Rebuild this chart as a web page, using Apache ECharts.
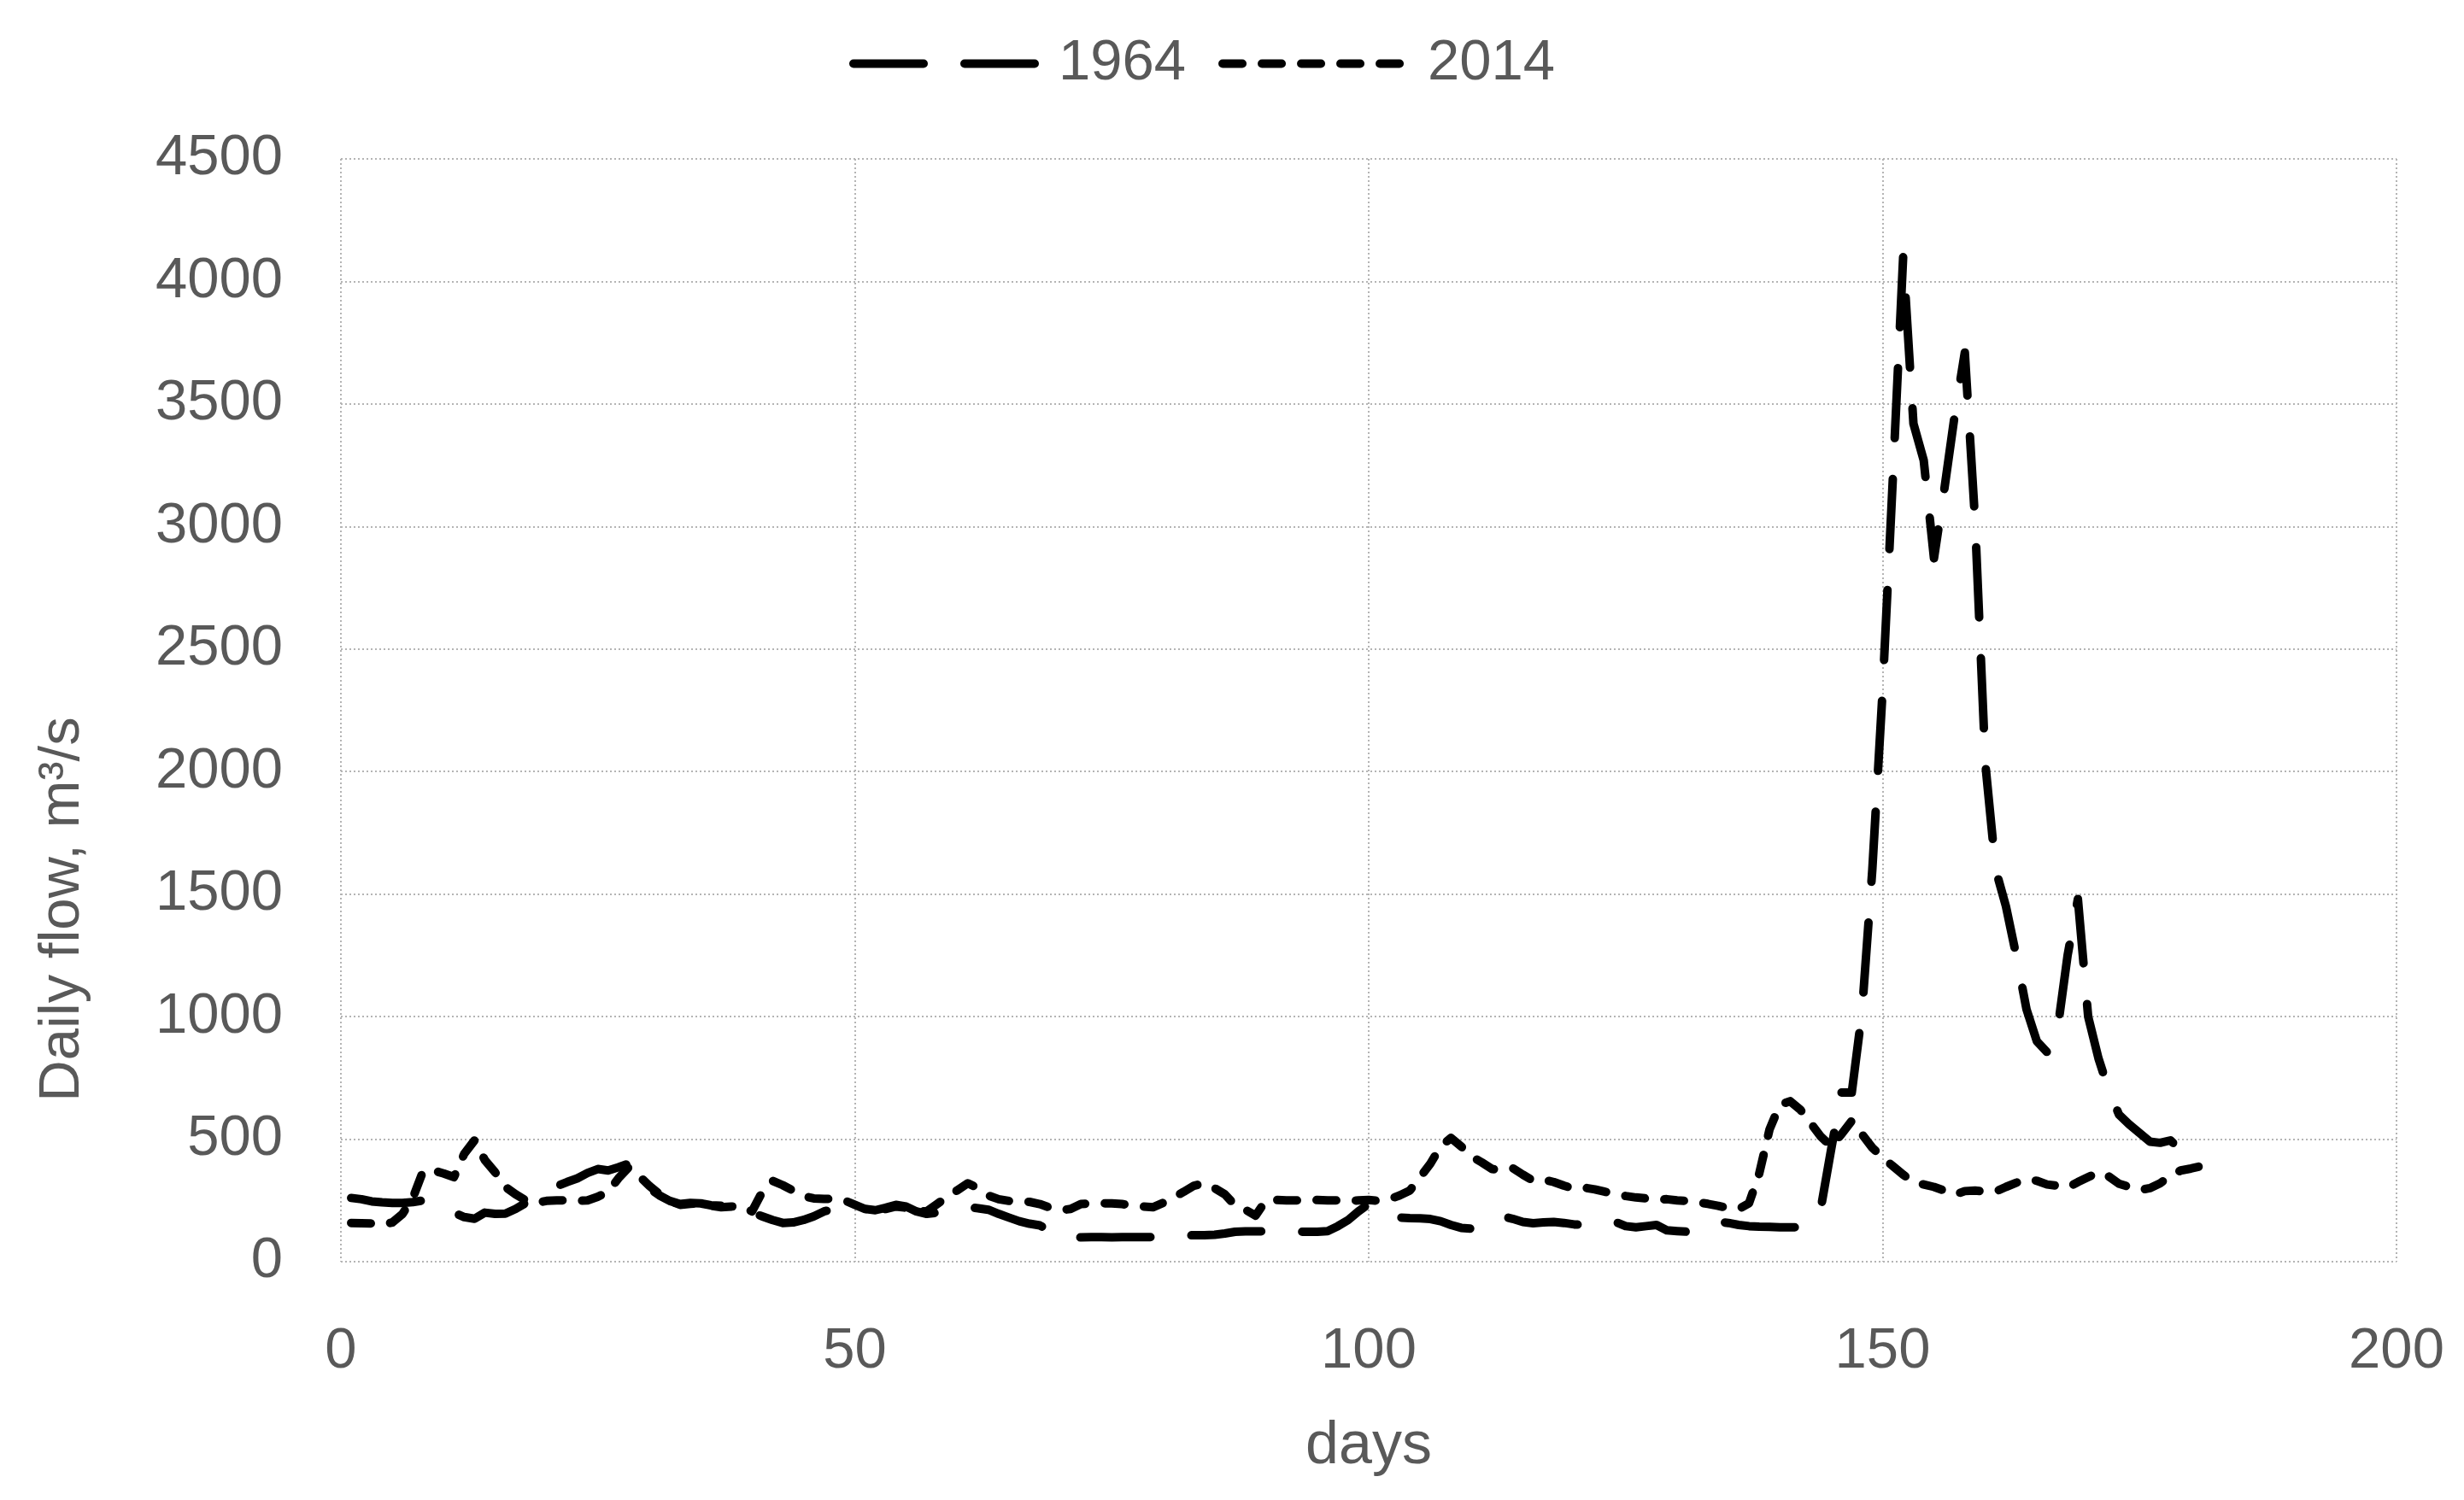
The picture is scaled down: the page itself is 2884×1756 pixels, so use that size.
<!DOCTYPE html>
<html>
<head>
<meta charset="utf-8">
<title>Daily flow 1964 / 2014</title>
<script src="https://cdn.jsdelivr.net/npm/echarts@6/dist/echarts.min.js"></script>
<style>
  html, body { margin: 0; padding: 0; background: #fff; }
  #chart { width: 2884px; height: 1756px; }
</style>
</head>
<body>
<div id="chart"></div>
<script>
// daily flow (m3/s), day 1 .. 181
const flow1964 = [
  260, 255, 246, 242, 240, 240, 243, 250, 235, 215,
  200, 182, 175, 200, 195, 196, 215, 240, 262, 285,
  308, 325, 340, 362, 378, 372, 385, 400, 340, 300,
  270, 248, 235, 240, 238, 230, 228, 228, 225, 200,
  185, 170, 158, 160, 170, 185, 205, 215, 225, 225,
  215, 210, 220, 232, 225, 205, 195, 200, 210, 220,
  222, 218, 212, 195, 180, 165, 155, 148, 125, 102,
  100, 99, 100, 100, 99, 100, 100, 100, 100, 103,
  105, 107, 108, 108, 110, 115, 122, 124, 124, 124,
  124, 123, 122, 122, 122, 125, 145, 170, 205, 235,
  215, 185, 180, 178, 177, 174, 165, 150, 138, 135,
  150, 175, 185, 175, 162, 157, 160, 162, 158, 152,
  150, 158, 168, 162, 145, 140, 145, 150, 128, 125,
  122, 135, 150, 163, 158, 150, 145, 143, 142, 140,
  140, 140, 160, 220, 460, 690, 690, 1020, 1600, 2330,
  3200, 4100, 3420, 3270, 2870, 3150, 3450, 3710, 3020, 2030,
  1600, 1450, 1250, 1030, 900, 855, 940, 1250, 1480, 1000,
  830, 700, 600, 560, 525, 490, 485, 495, 455, 510,
  480
];
const flow2014 = [
  158, 157, 156, 150, 160, 195, 260, 370, 372, 360,
  345, 440, 495, 415, 365, 305, 275, 250, 240, 248,
  250, 250, 248, 250, 265, 285, 340, 385, 350, 310,
  275, 248, 232, 236, 240, 228, 222, 225, 228, 205,
  285, 330, 312, 290, 268, 258, 256, 256, 250, 232,
  215, 210, 215, 225, 220, 208, 205, 235, 265, 292,
  320, 300, 270, 255, 248, 246, 244, 235, 220, 210,
  215, 235, 238, 238, 238, 235, 230, 225, 222, 240,
  262, 285, 310, 320, 300, 275, 230, 212, 188, 250,
  252, 250, 250, 250, 252, 250, 250, 248, 250, 252,
  248, 255, 270, 290, 345, 400, 470, 505, 470, 430,
  405, 378, 375, 382, 355, 330, 335, 325, 310, 298,
  302, 295, 285, 278, 268, 262, 258, 252, 255, 250,
  248, 242, 236, 228, 218, 215, 238, 360, 540, 640,
  655, 620, 565, 510, 470, 520, 575, 520, 465, 425,
  390, 355, 325, 315, 305, 290, 273, 288, 290, 287,
  286, 305, 322, 337, 330, 315, 310, 302, 325, 345,
  365, 348, 318, 305, 292, 300, 320, 350, 372, 380,
  390
];
const seriesNames = ['1964', '2014'];
const firstDay = 1;
const xMin = 0, xMax = 200, xStep = 50;
const yMin = 0, yMax = 4500, yStep = 500;

const font = 'Liberation Sans';
const grey = '#595959';

function toPoints(arr) {
  return arr.map((v, i) => [firstDay + i, v]);
}

var myChart = echarts.init(document.getElementById('chart'), null, { renderer: 'canvas' });

const gridLine = {
  show: true,
  lineStyle: { color: '#b4b4b4', width: 2, type: [2, 3] }
};

const option = {
  animation: false,
  backgroundColor: '#fff',
  textStyle: { fontFamily: font },
  legend: {
    left: 989,
    top: 36,
    itemWidth: 222,
    itemHeight: 14,
    itemGap: 38,
    itemStyle: { opacity: 0, borderWidth: 0 },
    lineStyle: { width: 10, cap: 'round' },
    textStyle: { fontFamily: font, fontSize: 67, color: grey, padding: [0, 0, 0, 13] },
    data: seriesNames
  },
  grid: {
    left: 399,
    right: 79,
    top: 186,
    bottom: 279
  },
  xAxis: {
    type: 'value',
    min: xMin,
    max: xMax,
    interval: xStep,
    name: 'days',
    nameLocation: 'middle',
    nameGap: 182,
    nameTextStyle: { fontFamily: font, fontSize: 70, color: grey },
    axisLine: { show: false },
    axisTick: { show: false },
    axisLabel: { fontFamily: font, fontSize: 67, color: grey, margin: 72, formatter: v => String(v) },
    splitLine: gridLine
  },
  yAxis: {
    type: 'value',
    min: yMin,
    max: yMax,
    interval: yStep,
    name: 'Daily flow, m³/s',
    nameLocation: 'middle',
    nameGap: 292,
    nameTextStyle: { fontFamily: font, fontSize: 67, color: grey, padding: [0, 466, 0, 0] },
    axisLine: { show: false },
    axisTick: { show: false },
    axisLabel: { fontFamily: font, fontSize: 67, color: grey, margin: 68, formatter: v => String(v) },
    splitLine: gridLine
  },
  series: [
    {
      name: seriesNames[0],
      type: 'line',
      data: toPoints(flow1964),
      symbol: 'none',
      lineStyle: { color: '#000', width: 10, type: [82, 48], cap: 'round', join: 'round' },
      itemStyle: { color: '#000' }
    },
    {
      name: seriesNames[1],
      type: 'line',
      data: toPoints(flow2014),
      symbol: 'none',
      lineStyle: { color: '#000', width: 10, type: [23, 23], cap: 'round', join: 'round' },
      itemStyle: { color: '#000' }
    }
  ]
};

myChart.setOption(option);
</script>
</body>
</html>
